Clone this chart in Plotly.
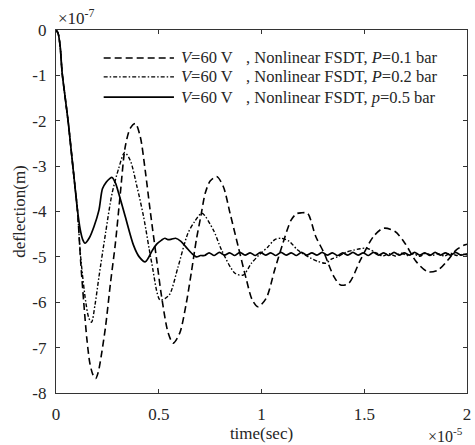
import plotly.graph_objects as go

# time in units of 1e-5 s, deflection in units of 1e-7 m
t_p01 = [0, 0.01, 0.02, 0.03, 0.045, 0.06, 0.075, 0.09, 0.104, 0.12, 0.135, 0.15, 0.165, 0.18, 0.193,
         0.205, 0.217, 0.241, 0.265, 0.289, 0.313, 0.337, 0.361, 0.386, 0.41, 0.434, 0.458, 0.49,
         0.514, 0.546, 0.57, 0.602, 0.634, 0.658, 0.683, 0.705, 0.726, 0.75, 0.782, 0.814, 0.847,
         0.887, 0.927, 0.955, 0.983, 1.023, 1.064, 1.104, 1.144, 1.17, 1.192, 1.224, 1.264, 1.305,
         1.353, 1.385, 1.425, 1.481, 1.545, 1.593, 1.65, 1.698, 1.754, 1.81, 1.859, 1.907, 1.947,
         1.987, 2.0]
d_p01 = [0, -0.07, -0.35, -0.95, -1.5, -2.05, -2.7, -3.35, -3.95, -5.1, -6.0, -6.8, -7.35, -7.6, -7.68,
         -7.55, -7.27, -6.54, -5.58, -4.7, -3.6, -2.57, -2.17, -2.06, -2.35, -3.09, -3.97, -5.07,
         -5.88, -6.68, -6.9, -6.68, -6.02, -5.36, -4.62, -4.1, -3.6, -3.33, -3.23, -3.45, -4.04,
         -4.78, -5.51, -5.95, -6.1, -5.91, -5.29, -4.7, -4.19, -4.05, -4.03, -4.04, -4.55, -4.92,
         -5.44, -5.62, -5.58, -5.07, -4.55, -4.37, -4.44, -4.7, -5.11, -5.33, -5.29, -5.07, -4.85,
         -4.74, -4.72]

t_p02 = [0, 0.01, 0.02, 0.03, 0.045, 0.06, 0.075, 0.09, 0.104, 0.12, 0.145, 0.16, 0.173, 0.19, 0.209,
         0.241, 0.273, 0.305, 0.334, 0.361, 0.394, 0.426, 0.466, 0.506, 0.53, 0.554, 0.594, 0.642,
         0.675, 0.71, 0.766, 0.806, 0.871, 0.911, 0.951, 0.99, 1.031, 1.065, 1.096, 1.136, 1.176,
         1.24, 1.275, 1.312, 1.34, 1.369, 1.41, 1.449, 1.48, 1.513, 1.561, 1.59, 1.62, 1.65, 1.68,
         1.71, 1.74, 1.77, 1.8, 1.83, 1.86, 1.89, 1.92, 1.95, 1.98, 2.0]
d_p02 = [0, -0.07, -0.35, -0.95, -1.5, -2.05, -2.7, -3.35, -3.95, -5.0, -6.0, -6.35, -6.44, -6.05, -5.44,
         -4.48, -3.6, -3.05, -2.7, -2.87, -3.45, -4.11, -5.14, -5.95, -5.92, -5.82, -5.22, -4.48,
         -4.22, -4.04, -4.41, -4.85, -5.36, -5.4, -5.14, -4.95, -4.78, -4.62, -4.59, -4.66, -4.85,
         -5.03, -5.1, -5.14, -5.05, -5.0, -4.9, -4.85, -4.82, -4.81, -4.92, -4.98, -4.93, -4.98, -4.92,
         -4.97, -4.93, -4.99, -4.92, -4.97, -4.93, -4.98, -4.92, -4.97, -4.94, -4.96]

t_p05 = [0, 0.01, 0.02, 0.03, 0.045, 0.06, 0.075, 0.09, 0.104, 0.118, 0.13, 0.141, 0.161, 0.185, 0.209,
         0.226, 0.245, 0.26, 0.273, 0.29, 0.305, 0.337, 0.377, 0.405, 0.434, 0.45, 0.466, 0.49, 0.514,
         0.53, 0.545, 0.562, 0.582, 0.608, 0.634, 0.66, 0.683, 0.703, 0.723,
         0.745, 0.77, 0.795, 0.82, 0.845, 0.87, 0.895, 0.92, 0.945, 0.97, 0.995, 1.02, 1.045, 1.07,
         1.095, 1.12, 1.145, 1.17, 1.195, 1.22, 1.245, 1.27, 1.295, 1.32, 1.345, 1.37, 1.395, 1.42,
         1.445, 1.47, 1.495, 1.52, 1.545, 1.57, 1.595, 1.62, 1.645, 1.67, 1.695, 1.72, 1.745, 1.77,
         1.795, 1.82, 1.845, 1.87, 1.895, 1.92, 1.945, 1.97, 2.0]
d_p05 = [0, -0.07, -0.35, -0.95, -1.5, -2.05, -2.7, -3.35, -3.95, -4.4, -4.62, -4.7, -4.59, -4.33, -3.97,
         -3.5, -3.35, -3.28, -3.25, -3.38, -3.6, -4.11, -4.74, -5.0, -5.11, -5.02, -4.88, -4.72, -4.63,
         -4.59, -4.62, -4.61, -4.59, -4.66, -4.79, -4.92, -5.0, -4.97, -4.97,
         -4.91, -4.97, -4.9, -4.96, -4.91, -4.97, -4.9, -4.96, -4.91, -4.97, -4.9, -4.96, -4.91, -4.97,
         -4.9, -4.96, -4.91, -4.97, -4.9, -4.96, -4.91, -4.96, -4.9, -4.96, -4.91, -4.97, -4.91, -4.96,
         -4.9, -4.96, -4.91, -4.97, -4.9, -4.96, -4.91, -4.97, -4.9, -4.96, -4.91, -4.96, -4.9, -4.96,
         -4.91, -4.97, -4.9, -4.96, -4.91, -4.96, -4.9, -4.96, -4.93]

x_ticks = [0, 0.5, 1, 1.5, 2]
x_ticktext = ["0", "0.5", "1", "1.5", "2"]
y_ticks = [0, -1, -2, -3, -4, -5, -6, -7, -8]
y_ticktext = ["0", "-1", "-2", "-3", "-4", "-5", "-6", "-7", "-8"]

legend_v = ["<i>V</i>=60 V", "<i>V</i>=60 V", "<i>V</i>=60 V"]
legend_rest = [", Nonlinear FSDT, <i>P</i>=0.1 bar",
               ", Nonlinear FSDT, <i>P</i>=0.2 bar",
               ", Nonlinear FSDT, <i>p</i>=0.5 bar"]

FONT = "Liberation Serif, Times New Roman, serif"
TXT = "#262626"
DASH1 = "7px,4px"
DASH2 = "4px,2px,1.5px,2px"

fig = go.Figure()
fig.add_trace(go.Scatter(x=t_p01, y=d_p01, mode="lines", line=dict(color="black", width=1.6, dash=DASH1, shape="spline", smoothing=0.8), showlegend=False))
fig.add_trace(go.Scatter(x=t_p02, y=d_p02, mode="lines", line=dict(color="black", width=1.4, dash=DASH2, shape="spline", smoothing=0.8), showlegend=False))
fig.add_trace(go.Scatter(x=t_p05, y=d_p05, mode="lines", line=dict(color="black", width=1.7, shape="spline", smoothing=0.8), showlegend=False))

axis_common = dict(showline=True, linecolor="#333333", linewidth=1.3, mirror="ticks", ticks="inside",
                   ticklen=4, tickwidth=1, tickcolor="#333333", showgrid=False, zeroline=False,
                   ticklabeloverflow="allow",
                   tickfont=dict(family=FONT, size=17, color=TXT))

fig.update_layout(
    width=475, height=445, autosize=False,
    margin=dict(l=56, r=4, t=30, b=52),
    paper_bgcolor="white", plot_bgcolor="white",
    font=dict(family=FONT, size=17, color=TXT),
    xaxis=dict(range=[0, 2], tickvals=x_ticks, ticktext=x_ticktext, ticklabelstandoff=5,
               title=dict(text="time(sec)", font=dict(family=FONT, size=17, color=TXT), standoff=3),
               **axis_common),
    yaxis=dict(range=[-8, 0], tickvals=y_ticks, ticktext=y_ticktext, ticklabelstandoff=5,
               title=dict(text="deflection(m)", font=dict(family=FONT, size=17, color=TXT), standoff=2),
               **axis_common),
)

# legend drawn manually (long line samples as in the reference)
leg_y = [0.923, 0.871, 0.815]
leg_dash = [DASH1, DASH2, "solid"]
leg_w = [1.6, 1.4, 1.7]
for i in range(3):
    fig.add_shape(type="line", xref="paper", yref="paper", x0=0.116, x1=0.287, y0=leg_y[i], y1=leg_y[i],
                  line=dict(color="black", width=leg_w[i], dash=leg_dash[i]))
    fig.add_annotation(xref="paper", yref="paper", x=0.300, y=leg_y[i], xanchor="left", yanchor="middle",
                       text=legend_v[i], showarrow=False, font=dict(family=FONT, size=16.5, color=TXT))
    fig.add_annotation(xref="paper", yref="paper", x=0.458, y=leg_y[i], xanchor="left", yanchor="middle",
                       text=legend_rest[i], showarrow=False, font=dict(family=FONT, size=16.5, color=TXT))

# axis multipliers
fig.add_annotation(xref="paper", yref="paper", x=0.0, y=1.0, xanchor="left", yanchor="bottom", yshift=0,
                   text="×10<sup>-7</sup>", showarrow=False, font=dict(family=FONT, size=17, color=TXT))
fig.add_annotation(xref="paper", yref="paper", x=1.0, y=0.0, xanchor="right", yanchor="top", yshift=-30,
                   xshift=-2, text="×10<sup>-5</sup>", showarrow=False, font=dict(family=FONT, size=16, color=TXT))

fig.write_html("out.html")
